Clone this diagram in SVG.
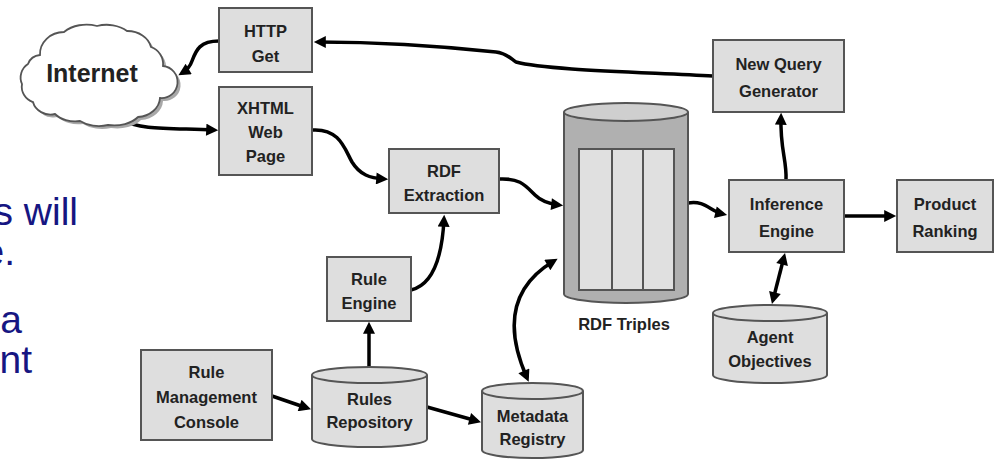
<svg xmlns="http://www.w3.org/2000/svg" width="997" height="460" viewBox="0 0 997 460">
<style>
.box{fill:#dedede;stroke:#555;stroke-width:2}
.cyl{fill:#dedede;stroke:#555;stroke-width:2}
.lbl{font-family:"Liberation Sans",Arial,sans-serif;font-weight:bold;font-size:16.5px;fill:#222;text-anchor:middle}
.big{font-family:"Liberation Sans",Arial,sans-serif;font-size:39px;fill:#161682;text-anchor:end}
.con{fill:none;stroke:#000;stroke-width:3.5;stroke-linecap:butt}
.arr{marker-end:url(#ah)}
.dbl{marker-start:url(#ah);marker-end:url(#ah)}
</style>
<defs>
<marker id="ah" viewBox="0 0 10 10" refX="6.5" refY="5" markerWidth="14" markerHeight="12" markerUnits="userSpaceOnUse" orient="auto-start-reverse">
<path d="M0,0 L10,5 L0,10 z" fill="#000"/>
</marker>
</defs>
<rect width="997" height="460" fill="#fff"/>

<g id="side-text">
<text class="big" x="78" y="225">s will</text>
<text class="big" x="15" y="265">e.</text>
<text class="big" x="22" y="333">a</text>
<text class="big" x="32" y="373">nt</text>
</g>

<g id="connectors">
<path class="con arr" d="M713,76 C640,72 545,70 516,62 C510,58 506,53 496,52 C430,45 380,42 318,42"/>
<path class="con arr" d="M219,41 C200,41 196,50 192,61 C190,67 187,70 182,73"/>
<path class="con arr" d="M122,120 C140,130 170,128 214,130"/>
<path class="con arr" d="M312,130 C340,128 345,150 352,162 C360,175 370,178 384,179"/>
<path class="con arr" d="M499,179 C520,178 525,185 535,195 C542,202 550,204 559,205"/>
<path class="con arr" d="M411,290 C432,285 442,260 444,219"/>
<path class="con arr" d="M369,367 L369,326"/>
<path class="con arr" d="M272,396 L307,408"/>
<path class="con arr" d="M427,407 L477,421"/>
<path class="con dbl" d="M527,378 C508,335 505,290 554,261"/>
<path class="con arr" d="M688,203 C705,200 710,211 723,214"/>
<path class="con arr" d="M786,180 C787,160 780,150 781,117"/>
<path class="con arr" d="M844,216 L892,216"/>
<path class="con dbl" d="M784,257 L773,300"/>
</g>

<g id="internet">
<path transform="translate(3,3)" fill="#a8a8a8" d="M40,55 A24,22 0 0 1 64,32 A30,22 0 0 1 97,26 A28,20 0 0 1 127,31 A24,20 0 0 1 151,47 A18,18 0 0 1 163,66 A16,16 0 0 1 160,98 A24,20 0 0 1 138,117 A28,18 0 0 1 108,125 A26,16 0 0 1 80,121 A24,16 0 0 1 55,114 A18,16 0 0 1 33,102 A16,16 0 0 1 22,84 A16,16 0 0 1 28,64 A14,14 0 0 1 40,55 Z"/>
<path fill="#fff" stroke="#555" stroke-width="1.8" d="M40,55 A24,22 0 0 1 64,32 A30,22 0 0 1 97,26 A28,20 0 0 1 127,31 A24,20 0 0 1 151,47 A18,18 0 0 1 163,66 A16,16 0 0 1 160,98 A24,20 0 0 1 138,117 A28,18 0 0 1 108,125 A26,16 0 0 1 80,121 A24,16 0 0 1 55,114 A18,16 0 0 1 33,102 A16,16 0 0 1 22,84 A16,16 0 0 1 28,64 A14,14 0 0 1 40,55 Z"/>
<text class="lbl" x="92" y="82" style="font-size:25px">Internet</text>
</g>

<g id="http-get">
<rect class="box" x="219" y="8" width="93" height="64"/>
<text class="lbl" x="265.5" y="37">HTTP</text>
<text class="lbl" x="265.5" y="62">Get</text>
</g>

<g id="xhtml-page">
<rect class="box" x="219" y="87" width="93" height="88"/>
<text class="lbl" x="265.5" y="114">XHTML</text>
<text class="lbl" x="265.5" y="138">Web</text>
<text class="lbl" x="265.5" y="162">Page</text>
</g>

<g id="rdf-extraction">
<rect class="box" x="389" y="149" width="110" height="64"/>
<text class="lbl" x="444" y="177">RDF</text>
<text class="lbl" x="444" y="201">Extraction</text>
</g>

<g id="rule-engine">
<rect class="box" x="327" y="257" width="84" height="64"/>
<text class="lbl" x="369" y="285">Rule</text>
<text class="lbl" x="369" y="309">Engine</text>
</g>

<g id="rule-management-console">
<rect class="box" x="141" y="350" width="131" height="90"/>
<text class="lbl" x="206.5" y="378">Rule</text>
<text class="lbl" x="206.5" y="403">Management</text>
<text class="lbl" x="206.5" y="428">Console</text>
</g>

<g id="rdf-triples">
<path d="M564,112 V294 A62,9 0 0 0 688,294 V112" fill="#b0b0b0" stroke="#555" stroke-width="2"/>
<ellipse cx="626" cy="112" rx="62" ry="9" fill="#cfcfcf" stroke="#555" stroke-width="2"/>
<rect x="579" y="149" width="95" height="141" fill="#e0e0e0" stroke="#555" stroke-width="2"/>
<line x1="612" y1="149" x2="612" y2="290" stroke="#555" stroke-width="2"/>
<line x1="643" y1="149" x2="643" y2="290" stroke="#555" stroke-width="2"/>
<text class="lbl" x="624" y="330">RDF Triples</text>
</g>

<g id="new-query-generator">
<rect class="box" x="713" y="40" width="131" height="72"/>
<text class="lbl" x="778.5" y="70">New Query</text>
<text class="lbl" x="778.5" y="97">Generator</text>
</g>

<g id="inference-engine">
<rect class="box" x="729" y="180" width="115" height="72"/>
<text class="lbl" x="786.5" y="210">Inference</text>
<text class="lbl" x="786.5" y="237">Engine</text>
</g>

<g id="product-ranking">
<rect class="box" x="897" y="180" width="96" height="72"/>
<text class="lbl" x="945" y="210">Product</text>
<text class="lbl" x="945" y="237">Ranking</text>
</g>

<g id="agent-objectives">
<path class="cyl" d="M713,313 V375 A57,8 0 0 0 827,375 V313"/>
<ellipse class="cyl" cx="770" cy="313" rx="57" ry="8"/>
<text class="lbl" x="770" y="343">Agent</text>
<text class="lbl" x="770" y="367">Objectives</text>
</g>

<g id="rules-repository">
<path class="cyl" d="M312,375 V439 A57.5,8 0 0 0 427,439 V375"/>
<ellipse class="cyl" cx="369.5" cy="375" rx="57.5" ry="8"/>
<text class="lbl" x="369.5" y="405">Rules</text>
<text class="lbl" x="369.5" y="428">Repository</text>
</g>

<g id="metadata-registry">
<path class="cyl" d="M482,391 V450 A50.5,8 0 0 0 583,450 V391"/>
<ellipse class="cyl" cx="532.5" cy="391" rx="50.5" ry="8"/>
<text class="lbl" x="532.5" y="422">Metadata</text>
<text class="lbl" x="532.5" y="445">Registry</text>
</g>
</svg>
